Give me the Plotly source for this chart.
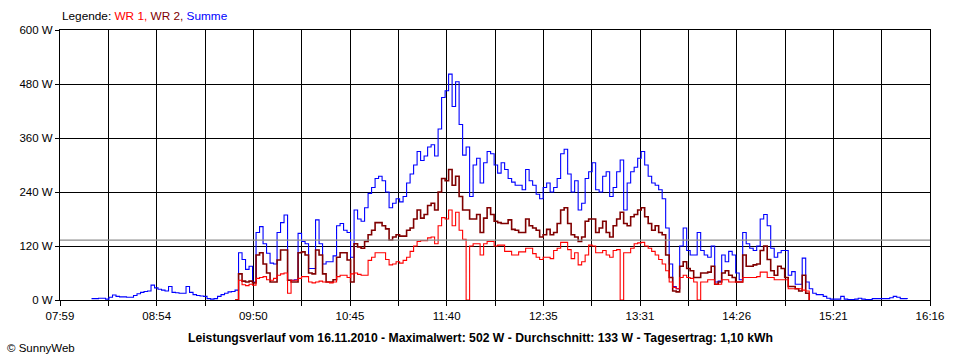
import plotly.graph_objects as go

# ---- data ----
start_minute = 8 * 60 + 17      # first sample 08:17
sample_step = 2                 # minutes between samples

summe = [3, 3, 4, 4, 2, 6, 11, 8, 7, 7, 6, 6, 10, 14, 17, 19, 20, 33, 27, 24,
         22, 20, 30, 17, 16, 15, 15, 30, 17, 12, 10, 9, 8, 3, 2, 3, 8, 12, 15, 18,
         19, 22,
         105, 90, 68, 75, 40, 150, 163, 125, 104, 82, 80, 150, 172, 189, 44, 44, 45, 148,
         130, 125, 70, 70, 178, 125, 80, 85, 85, 98, 165, 170, 155, 150, 95, 200, 180, 175,
         205, 237, 250, 270, 275, 265, 240, 205, 215, 225, 218, 230, 260, 280, 300, 330,
         310, 320, 340, 345, 320, 380, 450, 465, 502, 430, 485, 390, 322, 340, 230, 300,
         315, 260, 305, 330, 325, 300, 282, 305, 290, 270, 262, 255, 255, 245, 290, 265,
         255, 235, 225, 250, 260, 240, 250, 270, 325, 335, 280, 240, 265, 200, 215, 270,
         285, 305, 245, 240, 275, 285, 230, 250, 285, 311, 200, 260, 285, 295, 315, 330,
         300, 275, 260, 255, 245, 225, 160, 80, 30, 25, 120, 160, 110, 100, 100, 150,
         110, 100, 95, 120, 40, 42, 100, 85, 108, 100, 60, 45, 150, 125, 115, 110,
         120, 180, 190, 165, 115, 95, 105, 110, 110, 55, 63, 35, 35, 93, 40,
         25, 15, 12, 12, 8, 4, 2, 2, 2, 8, 2, 1, 1, 2, 4, 2, 1, 1, 3, 3, 3, 3, 3, 5, 8,
         6, 3, 3, 2]

wr2 = [None] * 41 + [0,
    58, 42, 40, 42, 38, 100, 105, 80, 60, 40, 40, 89, 111, 111, 44, 40, 40, 105,
    107, 100, 60, 58, 111, 100, 58, 40, 40, 45, 95, 105, 105, 89, 40, 125, 118, 115,
    130, 145, 155, 172, 172, 165, 158, 133, 140, 145, 142, 142, 155, 160, 180, 200,
    182, 190, 210, 215, 200, 240, 270, 265, 290, 255, 275, 230, 200, 200, 180, 180,
    190, 150, 182, 205, 190, 175, 172, 170, 170, 178, 157, 155, 150, 150, 180, 165,
    160, 155, 140, 145, 157, 145, 150, 170, 200, 205, 170, 145, 140, 130, 140, 175,
    180, 180, 150, 160, 175, 150, 140, 165, 180, 195, 170, 165, 185, 190, 200, 205,
    185, 170, 155, 165, 150, 145, 100, 50, 20, 18, 75, 85, 70, 65, 50, 50,
    60, 60, 62, 75, 35, 40, 60, 65, 55, 50, 40, 40, 100, 75, 75, 78,
    80, 110, 120, 90, 65, 55, 75, 70, 50, 30, 30, 25, 20, 55, 15, 0]

wr1 = [None] * 41 + [0,
    44, 34, 32, 35, 33, 48, 50, 52, 45, 44, 48, 55, 58, 60, 15, 44, 44, 48,
    52, 52, 40, 38, 40, 42, 40, 40, 38, 40, 52, 55, 55, 50, 58, 60, 57, 55,
    55, 88, 95, 105, 105, 105, 90, 78, 80, 85, 82, 88, 95, 108, 120, 130,
    132, 132, 138, 140, 125, 165, 183, 180, 200, 165, 195, 155, 135, 0, 120, 125,
    125, 100, 125, 130, 130, 120, 122, 122, 108, 108, 100, 100, 107, 107, 115, 115,
    103, 95, 90, 95, 95, 92, 110, 115, 128, 128, 112, 92, 105, 78, 85, 100,
    122, 120, 105, 105, 110, 100, 95, 110, 112, 0, 105, 105, 115, 125, 127, 128,
    120, 115, 108, 100, 90, 80, 65, 40, 28, 25, 50, 55, 50, 48, 40, 0,
    40, 40, 45, 45, 35, 35, 45, 45, 40, 40, 40, 40, 50, 50, 50, 50,
    52, 62, 62, 50, 50, 45, 45, 45, 45, 25, 25, 25, 25, 22, 20, 0]

average_w = 133

x_labels = ["07:59", "08:54", "09:50", "10:45", "11:40", "12:35", "13:31",
            "14:26", "15:21", "16:16"]
y_ticks = [0, 120, 240, 360, 480, 600]
y_labels = ["0 W", "120 W", "240 W", "360 W", "480 W", "600 W"]

axis_start = 7 * 60 + 59   # 07:59
axis_end = 16 * 60 + 16    # 16:16

title_text = ("Leistungsverlauf vom 16.11.2010 - Maximalwert: 502 W - "
              "Durchschnitt: 133 W - Tagesertrag: 1,10 kWh")

# ---- build ----
times = [start_minute + sample_step * i for i in range(len(summe))]

n_grid = 18
grid_vals = [axis_start + k * (axis_end - axis_start) / n_grid for k in range(n_grid + 1)]
grid_text = [x_labels[k // 2] if k % 2 == 0 else "" for k in range(n_grid + 1)]

FONT = "Liberation Sans, Arial, sans-serif"

fig = go.Figure()
fig.add_trace(go.Scatter(x=times, y=summe, mode="lines", name="Summe",
                         line=dict(color="#0000FF", width=1.1, shape="hv")))
fig.add_trace(go.Scatter(x=times, y=wr2, mode="lines", name="WR 2",
                         line=dict(color="#800000", width=1.6, shape="hv")))
fig.add_trace(go.Scatter(x=times, y=wr1, mode="lines", name="WR 1",
                         line=dict(color="#FF0000", width=1.1, shape="hv")))

fig.add_shape(type="line", xref="paper", x0=0, x1=1, yref="y",
              y0=average_w, y1=average_w, line=dict(color="#8C8C8C", width=1.2),
              layer="above")

fig.update_layout(
    width=960, height=360,
    margin=dict(l=60, r=30, t=30, b=60),
    paper_bgcolor="white", plot_bgcolor="white",
    showlegend=False,
    font=dict(family=FONT, size=11, color="black"),
    xaxis=dict(range=[axis_start, axis_end], tickvals=grid_vals, ticktext=grid_text,
               showgrid=True, gridcolor="black", gridwidth=1,
               showline=True, linecolor="black", linewidth=1, mirror=True,
               ticks="outside", ticklen=5, tickcolor="black", tickwidth=1,
               zeroline=False, tickfont=dict(size=11.5)),
    yaxis=dict(range=[0, 600], tickvals=y_ticks, ticktext=y_labels,
               showgrid=True, gridcolor="black", gridwidth=1,
               showline=True, linecolor="black", linewidth=1, mirror=True,
               ticks="outside", ticklen=4, tickcolor="black", tickwidth=1,
               zeroline=False, tickfont=dict(size=11.5)),
)

fig.add_annotation(xref="paper", yref="paper", x=0, y=1, yshift=5,
                   xanchor="left", yanchor="bottom", showarrow=False,
                   text=("Legende: <span style='color:#FF0000'>WR 1,</span> "
                         "<span style='color:#800000'>WR 2,</span> "
                         "<span style='color:#0000FF'>Summe</span>"),
                   font=dict(size=11.8, family=FONT))
fig.add_annotation(xref="paper", yref="paper", x=0.483, y=0, yshift=-38,
                   xanchor="center", yanchor="middle", showarrow=False,
                   text="<b>" + title_text + "</b>",
                   font=dict(size=12.2, family=FONT))
fig.add_annotation(xref="paper", yref="paper", x=-0.063, y=0, yshift=-48,
                   xanchor="left", yanchor="middle", showarrow=False,
                   text="© SunnyWeb", font=dict(size=11.5, family=FONT))

fig.write_html("out.html", config={"displayModeBar": False},
               post_script="document.body.style.margin='0';document.body.style.padding='0';")
